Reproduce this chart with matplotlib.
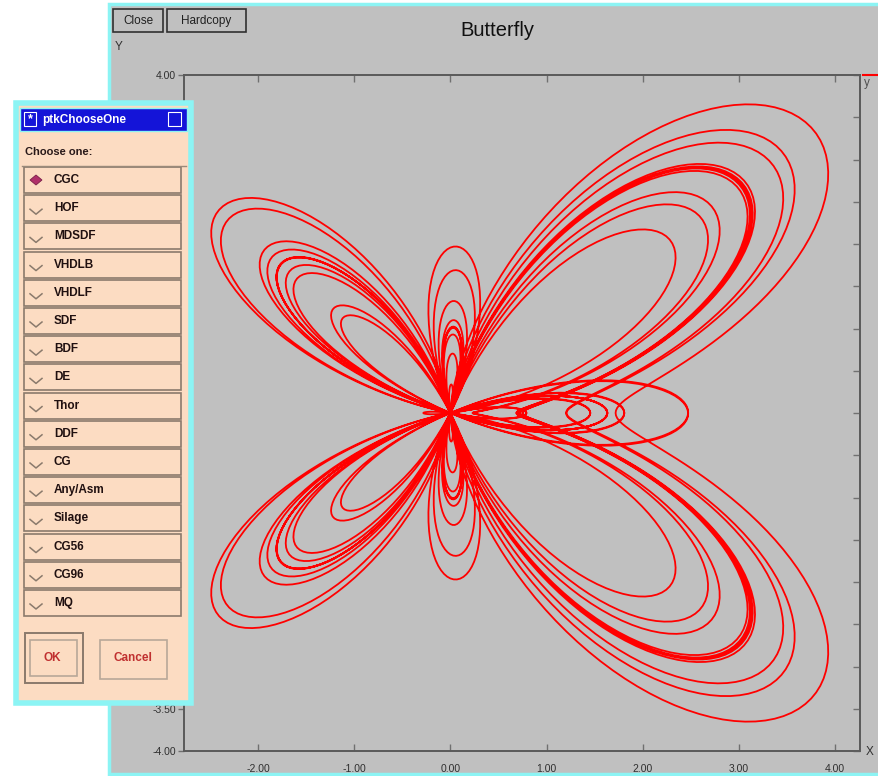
import numpy as np
import matplotlib
matplotlib.use("Agg")
import matplotlib.pyplot as plt
from matplotlib.patches import Rectangle, Polygon
from matplotlib.ticker import FixedLocator, FormatStrFormatter, NullFormatter

# ---- chart content ----
plot_title = "Butterfly"
x_ticks = [-2.0, -1.0, 0.0, 1.0, 2.0, 3.0, 4.0]
y_ticks = [-4.0, -3.5, -3.0, -2.5, -2.0, -1.5, -1.0, -0.5, 0.0,
           0.5, 1.0, 1.5, 2.0, 2.5, 3.0, 3.5, 4.0]
x_range = [-2.77, 4.26]
y_range = [-4.0, 4.0]

# Fay's butterfly curve  r = exp(cos t) - 2 cos 4t + sin^5(t/12)
turns = 12
samples_per_turn = 360
t = np.linspace(0, 2 * np.pi * turns, turns * samples_per_turn + 1)
r = np.exp(np.cos(t)) - 2 * np.cos(4 * t) + np.sin(t / 12) ** 5
curve_x = np.cos(t) * r
curve_y = np.sin(t) * r

window_buttons = ["Close", "Hardcopy"]
dialog_title = "ptkChooseOne"
dialog_prompt = "Choose one:"
domains = ["CGC", "HOF", "MDSDF", "VHDLB", "VHDLF", "SDF", "BDF", "DE",
           "Thor", "DDF", "CG", "Any/Asm", "Silage", "CG56", "CG96", "MQ"]
selected_domain = "CGC"
dialog_buttons = ["OK", "Cancel"]

# ---- figure ----
W, H = 879, 776
fig = plt.figure(figsize=(W / 100, H / 100), dpi=100)
fig.patch.set_facecolor("white")
plt.rcParams["font.family"] = ["Liberation Sans", "DejaVu Sans"]

GRAY = "#c0c0c0"
CYAN = "#8cf4f4"
PEACH = "#fcdcc2"
FRAME = "#5a5a5a"
TICK = "#707070"


def px_axes(z):
    a = fig.add_axes([0, 0, 1, 1], zorder=z)
    a.set_xlim(0, W)
    a.set_ylim(H, 0)
    a.axis("off")
    a.patch.set_alpha(0)
    return a


# window background
bg = px_axes(0)
bg.add_patch(Rectangle((109, 4), 780, 770, facecolor=GRAY,
                       edgecolor=CYAN, lw=2.5))
bx = [(113, 9, 50, 23), (167, 9, 79, 23)]
for (x0, y0, w, h), label in zip(bx, window_buttons):
    bg.add_patch(Rectangle((x0, y0), w, h, facecolor=GRAY,
                           edgecolor="#303030", lw=1.2))
    bg.text(x0 + w / 2, y0 + h / 2 + 0.5, label, ha="center", va="center",
            fontsize=8.5, color="#202020")
bg.text(497, 31, plot_title, ha="center", va="center", fontsize=14.5,
        color="#101010")
bg.text(115, 47, "Y", ha="left", va="center", fontsize=8.5, color="#303030")
bg.text(866, 752, "X", ha="left", va="center", fontsize=8.5, color="#303030")
bg.text(864, 83, "y", ha="left", va="center", fontsize=8.5, color="#505050")
bg.plot([863, 879], [75, 75], color="red", lw=1.5)

# plot area
left, right, top, bottom = 184, 860, 75, 751
ax = fig.add_axes([left / W, 1 - bottom / H, (right - left) / W,
                   (bottom - top) / H], zorder=1)
ax.set_facecolor(GRAY)
ax.plot(curve_x, curve_y, color="#ff0000", lw=1.3)
ax.set_xlim(*x_range)
ax.set_ylim(*y_range)
ax.xaxis.set_major_locator(FixedLocator(x_ticks))
ax.yaxis.set_major_locator(FixedLocator(y_ticks))
ax.xaxis.set_major_formatter(FormatStrFormatter("%.2f"))
ax.yaxis.set_major_formatter(FormatStrFormatter("%.2f"))
ax.tick_params(axis="x", direction="in", length=5, width=1, colors=TICK,
               labelcolor="#303030", labelsize=7.5, top=True, pad=9)
ax.tick_params(axis="y", direction="out", length=4, width=1, colors=TICK,
               labelcolor="#303030", labelsize=7.5, right=False, pad=2)
for s in ax.spines.values():
    s.set_color(FRAME)
    s.set_linewidth(1.2)

# inward tick marks along the right edge
ax_r = ax.twinx()
ax_r.set_ylim(*y_range)
ax_r.yaxis.set_major_locator(FixedLocator(y_ticks))
ax_r.yaxis.set_major_formatter(NullFormatter())
ax_r.tick_params(axis="y", direction="in", length=5, width=1, colors=TICK)
for s in ax_r.spines.values():
    s.set_color(FRAME)
    s.set_linewidth(1.2)

# zero ticks are drawn in white
for axis, vals in ((ax.xaxis, x_ticks), (ax_r.yaxis, y_ticks)):
    for tk, v in zip(axis.get_major_ticks(), vals):
        if v == 0.0:
            tk.tick1line.set_color("white")
            tk.tick2line.set_color("white")

# chooser dialog
fg = px_axes(3)
fg.add_patch(Rectangle((16, 103), 175, 600, facecolor=PEACH,
                       edgecolor=CYAN, lw=4))
fg.add_patch(Rectangle((20, 108), 167, 23, facecolor="#1414d8",
                       edgecolor="#8cf4f4", lw=1))
fg.add_patch(Rectangle((24, 112), 12, 14, facecolor="none",
                       edgecolor="white", lw=0.8))
fg.text(30, 119.5, "*", ha="center", va="center", fontsize=9,
        color="white", fontweight="bold")
fg.add_patch(Rectangle((168, 112), 13, 14, facecolor="none",
                       edgecolor="white", lw=0.8))
fg.text(42, 119.5, dialog_title, ha="left", va="center", fontsize=8.5,
        color="white", fontweight="bold")
fg.text(25, 152, dialog_prompt, ha="left", va="center", fontsize=8,
        color="#281818", fontweight="bold")
fg.plot([22, 186], [166, 166], color="#9a8a7a", lw=1)

row0, step = 180.0, 28.2
for i, name in enumerate(domains):
    cy = row0 + i * step
    fg.add_patch(Rectangle((24, cy - 13), 157, 26, facecolor=PEACH,
                           edgecolor="#8a7a6c", lw=1.2))
    if name == selected_domain:
        fg.add_patch(Polygon([(30, cy), (36, cy - 5), (42, cy), (36, cy + 5)],
                             closed=True, facecolor="#b0306a",
                             edgecolor="#7a2048", lw=0.6))
    else:
        fg.plot([30, 36, 42], [cy + 1, cy + 6, cy + 1], color="#8a7a6c",
                lw=1.1)
    fg.text(54, cy, name, ha="left", va="center", fontsize=8.5,
            color="#201010", fontweight="bold")

# OK (default, framed) and Cancel buttons
fg.add_patch(Rectangle((25, 633), 58, 50, facecolor=PEACH,
                       edgecolor="#8a7a6c", lw=1.4))
fg.add_patch(Rectangle((30, 640), 47, 36, facecolor=PEACH,
                       edgecolor="#b8a898", lw=1.2))
fg.text(52, 658, dialog_buttons[0], ha="center", va="center", fontsize=8.5,
        color="#c03030", fontweight="bold")
fg.add_patch(Rectangle((100, 640), 67, 39, facecolor=PEACH,
                       edgecolor="#b8a898", lw=1.2))
fg.text(133, 658, dialog_buttons[1], ha="center", va="center", fontsize=8.5,
        color="#c03030", fontweight="bold")

fig.savefig("out.png", dpi=100, facecolor=fig.get_facecolor())
